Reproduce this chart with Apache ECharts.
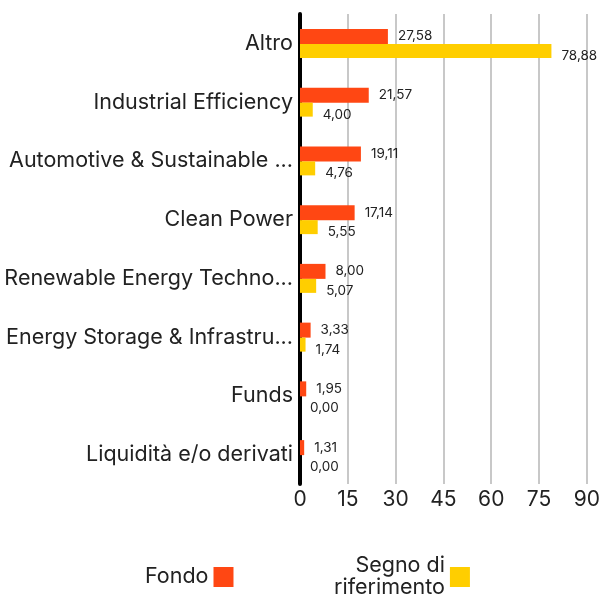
<!DOCTYPE html>
<html><head><meta charset="utf-8">
<script src="https://cdn.jsdelivr.net/npm/echarts@6/dist/echarts.min.js"></script>
<style>html,body{margin:0;padding:0;background:#fff}#c{width:603px;height:604px}</style>
</head><body><div id="c"></div>
<script>
const categories = ["Altro","Industrial Efficiency","Automotive & Sustainable ...","Clean Power","Renewable Energy Techno...","Energy Storage & Infrastru...","Funds","Liquidità e/o derivati"];
const fondo = [27.58,21.57,19.11,17.14,8.00,3.33,1.95,1.31];
const benchmark = [78.88,4.00,4.76,5.55,5.07,1.74,0.00,0.00];
const seriesNames = ["Fondo","Segno di\nriferimento"];
const xTicks = [0,15,30,45,60,75,90];

const fmt = v => v.toFixed(2).replace('.', ',');
const FONT = 'Inter';
const chart = echarts.init(document.getElementById('c'));
chart.setOption({
  animation:false,
  textStyle:{fontFamily:FONT},
  grid:{left:300,right:13,top:14,bottom:120,containLabel:false},
  xAxis:{type:'value',min:xTicks[0],max:xTicks[xTicks.length-1],interval:15,
    axisLine:{show:false},axisTick:{show:false},
    axisLabel:{fontSize:21,color:'#222',fontFamily:FONT,margin:5},
    splitLine:{show:true,lineStyle:{color:'#c8c8c8',width:2}}},
  yAxis:{type:'category',data:categories,inverse:true,
    axisLine:{show:true,lineStyle:{color:'#000',width:4}},axisTick:{show:false},
    axisLabel:{fontSize:21.5,color:'#222',fontFamily:FONT,margin:7}},
  legend:[
    {data:[seriesNames[0]],left:145,top:566,padding:0,align:'right',itemWidth:20,itemHeight:20,itemGap:8,icon:'rect',
      textStyle:{fontSize:21.5,lineHeight:22,color:'#222',fontFamily:FONT}},
    {data:[seriesNames[1]],left:334,top:555,padding:0,align:'right',itemWidth:20,itemHeight:20,icon:'rect',
      textStyle:{fontSize:21.5,color:'#222',fontFamily:FONT,lineHeight:22}}
  ],
  series:[
    {name:seriesNames[0],type:'bar',data:fondo,barWidth:15,barGap:'0%',
      itemStyle:{color:'#ff4713'},
      label:{show:true,position:'right',distance:10,fontSize:13.5,color:'#222',fontFamily:FONT,
        formatter:p=>fmt(p.value)}},
    {name:seriesNames[1],type:'bar',data:benchmark,barWidth:14,barGap:'0%',
      itemStyle:{color:'#ffce00'},
      label:{show:true,position:'right',distance:10,offset:[0,5],fontSize:13.5,color:'#222',fontFamily:FONT,
        formatter:p=>fmt(p.value)}}
  ]
});
</script></body></html>
